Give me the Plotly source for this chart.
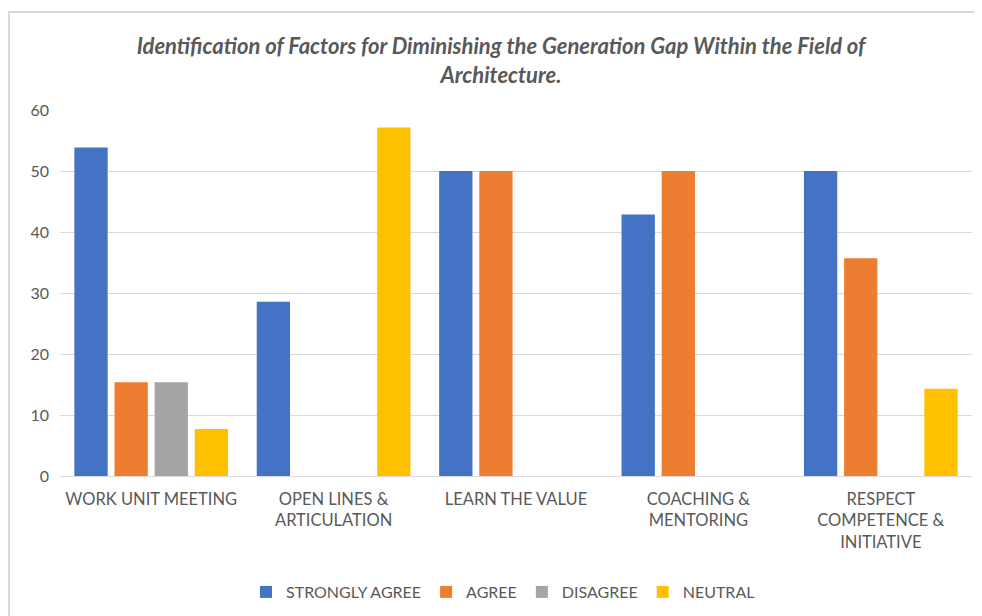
import plotly.graph_objects as go

categories = ["WORK UNIT MEETING", "OPEN LINES &<br>ARTICULATION", "LEARN THE VALUE",
              "COACHING &<br>MENTORING", "RESPECT<br>COMPETENCE &<br>INITIATIVE"]
strongly_agree = [53.85, 28.57, 50.0, 42.86, 50.0]
agree = [15.38, 0, 50.0, 50.0, 35.71]
disagree = [15.38, 0, 0, 0, 0]
neutral = [7.69, 57.14, 0, 0, 14.29]

series = [
    ("STRONGLY AGREE", strongly_agree, "#4472C4"),
    ("AGREE", agree, "#ED7D31"),
    ("DISAGREE", disagree, "#A5A5A5"),
    ("NEUTRAL", neutral, "#FFC000"),
]

fig = go.Figure()
for name, vals, col in series:
    fig.add_trace(go.Bar(
        x=categories, y=vals, name=name,
        marker=dict(color=col, line=dict(width=0)),
    ))

# page is offset by 8px body margin
W, H = 970, 608
ml, mr, mt, mb = 52, 6, 102, 140
pw, ph = W - ml - mr, H - mt - mb

fig.update_layout(
    width=W, height=H,
    margin=dict(l=ml, r=mr, t=mt, b=mb),
    paper_bgcolor="white", plot_bgcolor="white",
    barmode="group", bargap=0.12, bargroupgap=0.17,
    font=dict(family="Lato", size=16, color="#595959"),
    title=dict(
        text="<i>Identification of Factors for Diminishing the Generation Gap Within the Field of<br>Architecture.</i>",
        x=(501 - 8) / W, xanchor="center", y=1 - (54 - 8) / H, yanchor="middle",
        font=dict(family="Lato", size=22, color="#595959", weight="bold"),
    ),
    legend=dict(orientation="h", x=(503 - 8 - ml) / pw, xanchor="center",
                y=-(592 - 476) / ph, yanchor="middle",
                font=dict(size=16, color="#595959"), itemwidth=30, traceorder="normal"),
    xaxis=dict(showgrid=False, showline=True, linecolor="#D9D9D9", linewidth=1,
               ticks="", tickfont=dict(size=16.5, color="#595959"), ticklabelstandoff=8),
    yaxis=dict(range=[0, 60], dtick=10, showgrid=True, gridcolor="#D9D9D9", gridwidth=1,
               zeroline=False, showline=False, ticks="",
               tickfont=dict(size=16, color="#595959"), ticklabelstandoff=10),
    shapes=[
        dict(type="line", xref="paper", yref="paper",
             x0=(1 - ml) / pw, x1=(1 - ml) / pw, y0=(H - mb - 4) / ph, y1=(H - mb - 620) / ph,
             line=dict(color="#D9D9D9", width=2)),
        dict(type="line", xref="paper", yref="paper",
             x0=(0 - ml) / pw, x1=(990 - ml) / pw, y0=(H - mb - 4) / ph, y1=(H - mb - 4) / ph,
             line=dict(color="#D9D9D9", width=2)),
    ],
)

fig.write_html("out.html")
